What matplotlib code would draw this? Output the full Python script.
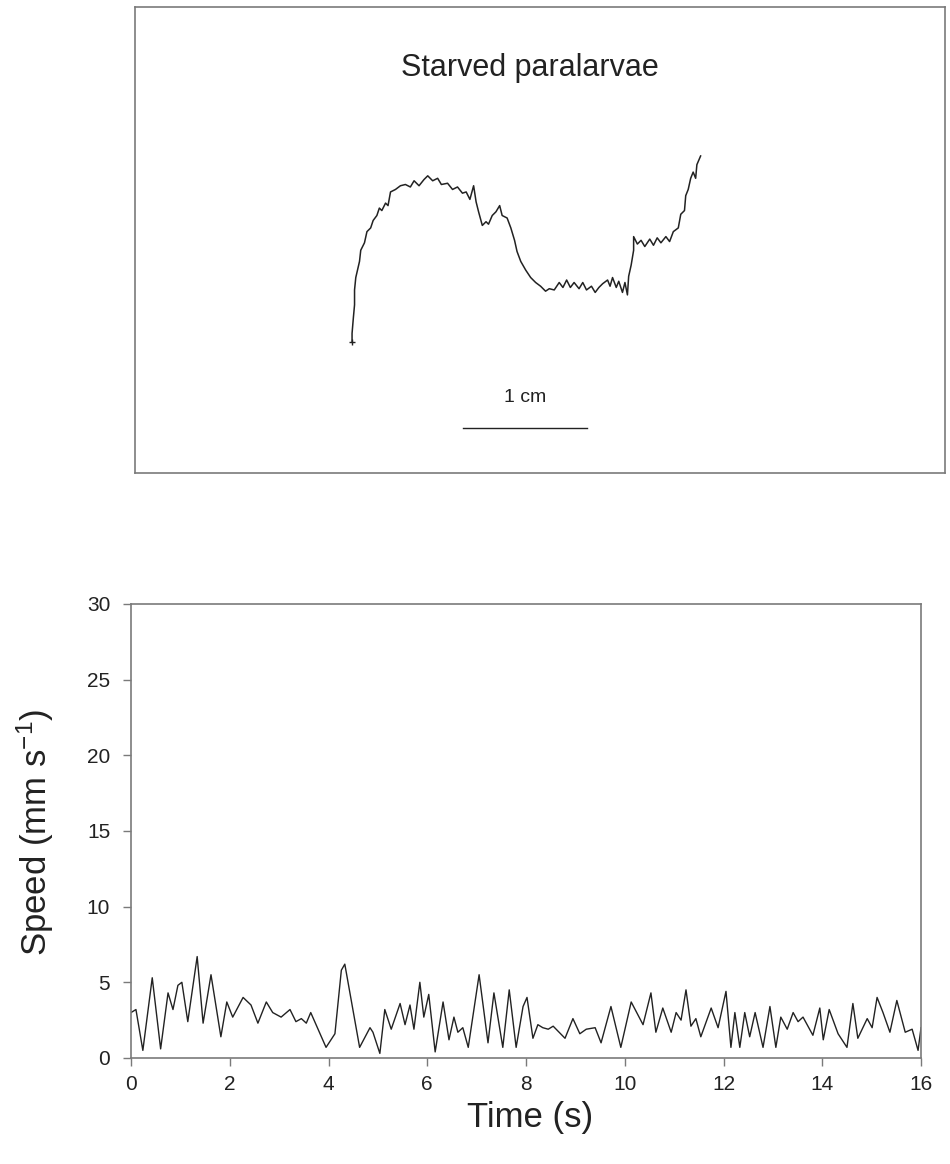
"""
Starved paralarvae: swimming track (top) and speed trace (bottom).
"""
import matplotlib
matplotlib.use("Agg")
import matplotlib.pyplot as plt

plt.rcParams["font.family"] = ["Liberation Sans", "DejaVu Sans"]
plt.rcParams["mathtext.default"] = "regular"

# track, in mm from the start point
track_x = [0.0, 0.0, 0.1, 0.2, 0.2, 0.3, 0.6, 0.7, 1.0, 1.2,
           1.5, 1.7, 2.0, 2.2, 2.4, 2.7, 2.9, 3.1, 3.5, 3.9,
           4.3, 4.7, 5.0, 5.4, 5.8, 6.1, 6.5, 6.9, 7.2, 7.7,
           8.1, 8.5, 8.9, 9.2, 9.5, 9.8, 10.0, 10.2, 10.5, 10.8,
           11.0, 11.3, 11.6, 11.9, 12.1, 12.5, 12.8, 13.1, 13.3, 13.6,
           14.0, 14.4, 14.8, 15.2, 15.6, 15.9, 16.3, 16.7, 17.0, 17.3,
           17.6, 17.9, 18.3, 18.6, 18.9, 19.3, 19.6, 19.9, 20.2, 20.6,
           20.8, 21.0, 21.3, 21.5, 21.8, 22.0, 22.2, 22.3, 22.5, 22.7,
           22.7, 23.0, 23.3, 23.6, 24.0, 24.3, 24.6, 24.9, 25.3, 25.6,
           25.9, 26.3, 26.5, 26.8, 26.9, 27.1, 27.3, 27.5, 27.7, 27.8,
           28.1]
track_y = [0.0, 0.7, 1.9, 3.0, 4.2, 5.2, 6.5, 7.4, 8.0, 8.9,
           9.2, 9.8, 10.2, 10.8, 10.6, 11.2, 11.0, 12.1, 12.3, 12.6,
           12.7, 12.5, 13.0, 12.6, 13.1, 13.4, 13.0, 13.2, 12.7, 12.8,
           12.3, 12.5, 12.0, 12.1, 11.5, 12.6, 11.3, 10.5, 9.4, 9.7,
           9.5, 10.2, 10.5, 11.0, 10.2, 10.0, 9.2, 8.2, 7.3, 6.5,
           5.8, 5.2, 4.8, 4.5, 4.1, 4.3, 4.2, 4.8, 4.4, 5.0,
           4.4, 4.8, 4.3, 4.8, 4.2, 4.5, 4.0, 4.4, 4.7, 5.0,
           4.5, 5.2, 4.4, 4.9, 4.0, 4.8, 3.8, 5.3, 6.2, 7.4,
           8.5, 7.9, 8.2, 7.7, 8.3, 7.8, 8.4, 8.0, 8.5, 8.1,
           8.9, 9.2, 10.3, 10.6, 11.8, 12.3, 13.2, 13.7, 13.2, 14.3,
           15.0]

# speed trace (s, mm/s)
time_s = [0.00, 0.10, 0.24, 0.43, 0.60, 0.75, 0.85, 0.95, 1.03, 1.15,
          1.34, 1.46, 1.62, 1.82, 1.94, 2.06, 2.27, 2.43, 2.57, 2.74,
          2.87, 3.04, 3.22, 3.34, 3.45, 3.55, 3.64, 3.95, 4.13, 4.26,
          4.33, 4.63, 4.84, 4.90, 5.04, 5.14, 5.27, 5.45, 5.55, 5.65,
          5.73, 5.85, 5.93, 6.03, 6.16, 6.32, 6.44, 6.54, 6.62, 6.72,
          6.83, 7.05, 7.23, 7.35, 7.53, 7.66, 7.80, 7.94, 8.02, 8.14,
          8.24, 8.34, 8.45, 8.55, 8.79, 8.95, 9.09, 9.22, 9.40, 9.52,
          9.72, 9.92, 10.13, 10.37, 10.53, 10.63, 10.77, 10.94, 11.04, 11.14,
          11.24, 11.34, 11.44, 11.54, 11.75, 11.89, 12.05, 12.15, 12.23, 12.33,
          12.43, 12.53, 12.64, 12.80, 12.94, 13.06, 13.16, 13.29, 13.41, 13.51,
          13.61, 13.81, 13.95, 14.02, 14.14, 14.32, 14.50, 14.62, 14.72, 14.91,
          15.01, 15.11, 15.23, 15.37, 15.51, 15.68, 15.82, 15.94, 16.00]
speed = [3.0, 3.2, 0.5, 5.3, 0.6, 4.3, 3.2, 4.8, 5.0, 2.4,
         6.7, 2.3, 5.5, 1.4, 3.7, 2.7, 4.0, 3.5, 2.3, 3.7,
         3.0, 2.7, 3.2, 2.4, 2.6, 2.3, 3.0, 0.7, 1.6, 5.8,
         6.2, 0.7, 2.0, 1.7, 0.3, 3.2, 1.9, 3.6, 2.2, 3.5,
         1.9, 5.0, 2.7, 4.2, 0.4, 3.7, 1.2, 2.7, 1.7, 2.0,
         0.7, 5.5, 1.0, 4.3, 0.7, 4.5, 0.7, 3.4, 4.0, 1.3,
         2.2, 2.0, 1.9, 2.1, 1.3, 2.6, 1.6, 1.9, 2.0, 1.0,
         3.4, 0.7, 3.7, 2.2, 4.3, 1.7, 3.3, 1.7, 3.0, 2.5,
         4.5, 2.1, 2.6, 1.4, 3.3, 2.0, 4.4, 0.7, 3.0, 0.7,
         3.0, 1.4, 3.0, 0.7, 3.4, 0.7, 2.7, 1.9, 3.0, 2.4,
         2.7, 1.5, 3.3, 1.2, 3.2, 1.6, 0.7, 3.6, 1.3, 2.6,
         2.0, 4.0, 3.0, 1.7, 3.8, 1.7, 1.9, 0.5, 2.0]

x_ticks = [0, 2, 4, 6, 8, 10, 12, 14, 16]
y_ticks = [0, 5, 10, 15, 20, 25, 30]
scale_bar_mm = [8.95, 18.95]

SPINE = "#7a7a7a"
INK = "#222222"

fig = plt.figure(figsize=(9.5, 11.64), dpi=100)

# --- top: track -----------------------------------------------------------
ax1 = fig.add_axes([0.1421, 0.5936, 0.8526, 0.4003])
ax1.plot(track_x, track_y, color=INK, lw=1.1)
ax1.plot(track_x[0], track_y[0], marker="+", ms=5, color=INK, mew=1.0)
ax1.set_xlim(-17.5, 47.8)
ax1.set_ylim(-10.56, 27.0)
ax1.set_xticks([])
ax1.set_yticks([])
for s in ax1.spines.values():
    s.set_color(SPINE)
    s.set_linewidth(1.2)
ax1.text(0.488, 0.869, "Starved paralarvae", transform=ax1.transAxes,
         ha="center", va="center", fontsize=22, color=INK)
# 1 cm scale bar
ax1.plot(scale_bar_mm, [-6.94, -6.94], color=INK, lw=1.0)
ax1.text(sum(scale_bar_mm) / 2, -4.5, "1 cm", ha="center", va="center",
         fontsize=14, color=INK)

# --- bottom: speed --------------------------------------------------------
ax2 = fig.add_axes([0.1379, 0.0911, 0.8316, 0.3900])
ax2.plot(time_s, speed, color=INK, lw=1.0)
ax2.set_xlim(0, 16)
ax2.set_ylim(0, 30)
ax2.set_xticks(x_ticks)
ax2.set_yticks(y_ticks)
ax2.tick_params(direction="out", length=6, width=1.0, color=SPINE,
                labelsize=15, labelcolor=INK)
ax2.tick_params(axis="y", pad=9)
ax2.tick_params(axis="x", pad=6)
for s in ax2.spines.values():
    s.set_color(SPINE)
    s.set_linewidth(1.2)
ax2.set_xlabel("Time (s)", fontsize=25, color=INK, va="center")
ax2.set_ylabel("Speed (mm s$^{-1}$)", fontsize=25, color=INK, va="center")
ax2.xaxis.set_label_coords(0.505, -0.132)
ax2.yaxis.set_label_coords(-0.1215, 0.496)

fig.savefig("out.png", dpi=100)
